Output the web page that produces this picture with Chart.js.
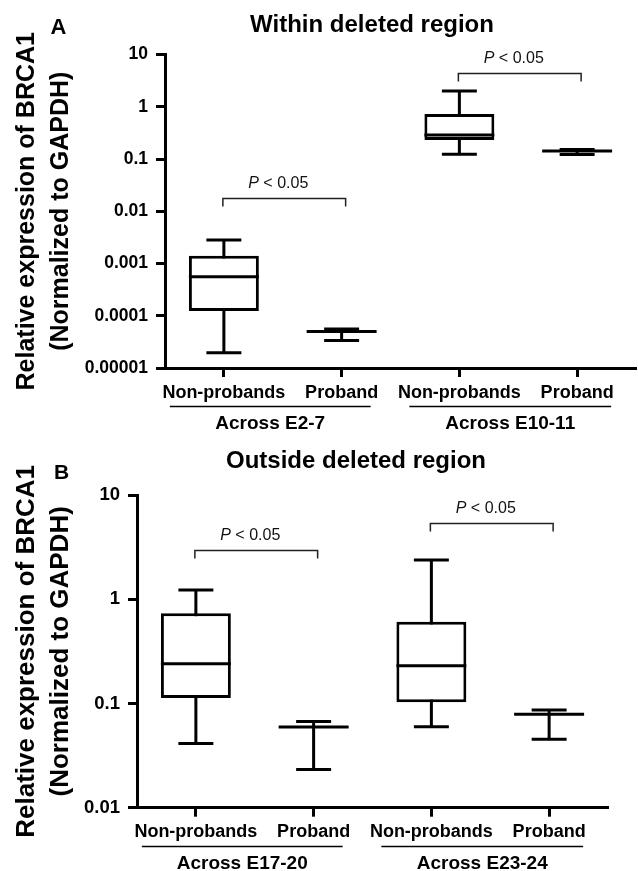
<!DOCTYPE html>
<html lang="en">
<head>
  <meta charset="UTF-8">
  <title>BRCA1 relative expression</title>
  <script src="https://cdn.jsdelivr.net/npm/chart.js"></script>
  <style>
    body { margin: 0; background: #fff; }
    canvas { display: block; }
  </style>
</head>
<body>
  <canvas id="chartA" width="638" height="436"></canvas>
  <canvas id="chartB" width="638" height="435"></canvas>

<script>
  // categories, shared by both panels
  const labels = ['Non-probands', 'Proband', 'Non-probands', 'Proband'];

  // panel A - within deleted region
  const groupsA = ['Across E2-7', 'Across E10-11'];
  const minA = [0.0000196, 0.0000336, 0.123, 0.122];
  const q1A  = [0.000123, 0.0000495, 0.231, 0.141];
  const medA = [0.000559, 0.0000500, 0.288, 0.142];
  const q3A  = [0.00141, 0.0000505, 0.726, 0.143];
  const maxA = [0.00282, 0.0000557, 2.0, 0.152];
  const ticksA = [0.00001, 0.0001, 0.001, 0.01, 0.1, 1, 10];
  const tickLabelsA = ['0.00001', '0.0001', '0.001', '0.01', '0.1', '1', '10'];
  const bracketsA = [0.0182, 4.48];

  // panel B - outside deleted region
  const groupsB = ['Across E17-20', 'Across E23-24'];
  const minB = [0.0414, 0.0233, 0.0598, 0.0453];
  const q1B  = [0.113, 0.0585, 0.1025, 0.078];
  const medB = [0.240, 0.0594, 0.230, 0.079];
  const q3B  = [0.732, 0.0600, 0.608, 0.080];
  const maxB = [1.225, 0.0670, 2.38, 0.0864];
  const ticksB = [0.01, 0.1, 1, 10];
  const tickLabelsB = ['0.01', '0.1', '1', '10'];
  const bracketsB = [2.97, 5.35];

  const yTitle = ['Relative expression of BRCA1', '(Normalized to GAPDH)'];
  const pItalic = 'P';
  const pRest = ' < 0.05';

  const FONT = "'Liberation Sans', Arial, sans-serif";
  // how far each group underline runs past the two category centres
  const underPad = [[54, 29], [50, 34]];

  function pValue(ctx, cx, baseline) {
    const it = 'italic 16px ' + FONT, rg = '16px ' + FONT;
    ctx.font = it;
    const wP = ctx.measureText(pItalic).width;
    ctx.font = rg;
    const wR = ctx.measureText(pRest).width;
    const x0 = cx - (wP + wR) / 2;
    ctx.textAlign = 'left';
    ctx.font = it;
    ctx.fillText(pItalic, x0, baseline);
    ctx.font = rg;
    ctx.fillText(pRest, x0 + wP, baseline);
  }

  function boxChart(id, p) {
    const boxPlot = {
      id: 'boxPlot',
      // whiskers and caps go under the boxes
      beforeDatasetsDraw(chart) {
        const ctx = chart.ctx, x = chart.scales.x, y = chart.scales.y;
        ctx.save();
        ctx.strokeStyle = '#000';
        ctx.lineWidth = 3;
        chart.getDatasetMeta(0).data.forEach((bar, i) => {
          const cx = x.getPixelForValue(i), half = bar.width / 4;
          const yMax = y.getPixelForValue(p.max[i]), yMin = y.getPixelForValue(p.min[i]);
          ctx.beginPath();
          ctx.moveTo(cx, yMax);
          ctx.lineTo(cx, yMin);
          ctx.moveTo(cx - half, yMax);
          ctx.lineTo(cx + half, yMax);
          ctx.moveTo(cx - half, yMin);
          ctx.lineTo(cx + half, yMin);
          ctx.stroke();
        });
        ctx.restore();
      },
      afterDatasetsDraw(chart) {
        const ctx = chart.ctx, y = chart.scales.y;
        ctx.save();
        ctx.strokeStyle = '#000';
        ctx.lineWidth = 3;
        chart.getDatasetMeta(0).data.forEach((bar, i) => {
          const ym = y.getPixelForValue(p.med[i]);
          ctx.beginPath();
          ctx.moveTo(bar.x - bar.width / 2, ym);
          ctx.lineTo(bar.x + bar.width / 2, ym);
          ctx.stroke();
        });
        ctx.restore();
      },
      afterDraw(chart) {
        const ctx = chart.ctx, x = chart.scales.x, y = chart.scales.y;
        const area = chart.chartArea;
        ctx.save();
        ctx.fillStyle = '#000';
        ctx.textBaseline = 'alphabetic';
        ctx.textAlign = 'center';
        ctx.font = 'bold 24px ' + FONT;
        ctx.fillText(p.title, p.titleX, p.titleY);
        ctx.font = 'bold ' + p.letterSize + 'px ' + FONT;
        ctx.fillText(p.letter, p.letterX, p.letterY);

        // significance brackets
        ctx.strokeStyle = '#222';
        ctx.lineWidth = 1.5;
        p.brackets.forEach((v, g) => {
          const x0 = x.getPixelForValue(2 * g) - 1;
          const x1 = x.getPixelForValue(2 * g + 1) + 4;
          const yb = Math.round(y.getPixelForValue(v)) + 0.5;
          ctx.beginPath();
          ctx.moveTo(x0, yb + 8);
          ctx.lineTo(x0, yb);
          ctx.lineTo(x1, yb);
          ctx.lineTo(x1, yb + 8);
          ctx.stroke();
          ctx.fillStyle = '#111';
          pValue(ctx, (x0 + x1) / 2 - 6, yb - 11);
        });

        // group underlines and names
        ctx.fillStyle = '#000';
        ctx.strokeStyle = '#000';
        p.groups.forEach((name, g) => {
          const x0 = x.getPixelForValue(2 * g) - underPad[g][0];
          const x1 = x.getPixelForValue(2 * g + 1) + underPad[g][1];
          const yu = Math.round(area.bottom + 38) + 0.5;
          ctx.beginPath();
          ctx.moveTo(x0, yu);
          ctx.lineTo(x1, yu);
          ctx.stroke();
          ctx.textAlign = 'center';
          ctx.font = 'bold 19px ' + FONT;
          ctx.fillText(name, (x0 + x1) / 2, yu + 22);
        });
        ctx.restore();
      }
    };

    return new Chart(document.getElementById(id), {
      type: 'bar',
      data: {
        labels: labels,
        datasets: [{
          data: p.q1.map((v, i) => [v, p.q3[i]]),
          backgroundColor: '#fff',
          borderColor: '#000',
          borderWidth: 3,
          borderSkipped: false,
          barPercentage: 0.594,
          categoryPercentage: 1
        }]
      },
      options: {
        responsive: false,
        animation: false,
        events: [],
        layout: { padding: { top: p.top, right: p.right, left: 0, bottom: 0 } },
        plugins: { legend: { display: false }, tooltip: { enabled: false } },
        scales: {
          x: {
            grid: { offset: false, drawOnChartArea: false, tickLength: 9, tickWidth: 3, tickColor: '#000' },
            border: { color: '#000', width: 3 },
            ticks: {
              color: '#000', autoSkip: false, maxRotation: 0, minRotation: 0, padding: 5,
              font: { family: FONT, size: 18, weight: 'bold' }
            },
            afterFit: s => { s.height = p.xHeight; }
          },
          y: {
            type: 'logarithmic',
            min: p.ticks[0],
            max: p.ticks[p.ticks.length - 1],
            afterBuildTicks: s => { s.ticks = p.ticks.map(v => ({ value: v })); },
            grid: { drawOnChartArea: false, tickLength: 9, tickWidth: 3, tickColor: '#000' },
            border: { color: '#000', width: 3 },
            ticks: {
              color: '#000', autoSkip: false, padding: 8,
              font: { family: FONT, size: p.tickSize, weight: 'bold' },
              callback: (v, i) => p.tickLabels[i]
            },
            title: {
              display: true,
              text: yTitle,
              color: '#000',
              padding: { top: 10, bottom: 0 },
              font: { family: FONT, size: p.yTitleSize, weight: 'bold', lineHeight: '34px' }
            },
            afterFit: s => { s.width = p.yWidth; }
          }
        }
      },
      plugins: [boxPlot]
    });
  }

  boxChart('chartA', {
    min: minA, q1: q1A, med: medA, q3: q3A, max: maxA,
    ticks: ticksA, tickLabels: tickLabelsA, brackets: bracketsA, groups: groupsA,
    title: 'Within deleted region', titleX: 372, titleY: 32,
    letter: 'A', letterX: 58.5, letterY: 33.5, letterSize: 22,
    top: 54.5, right: 2, yWidth: 165, xHeight: 68, tickSize: 17.5, yTitleSize: 25
  });

  boxChart('chartB', {
    min: minB, q1: q1B, med: medB, q3: q3B, max: maxB,
    ticks: ticksB, tickLabels: tickLabelsB, brackets: bracketsB, groups: groupsB,
    title: 'Outside deleted region', titleX: 356, titleY: 32,
    letter: 'B', letterX: 61.5, letterY: 42.5, letterSize: 21,
    top: 59, right: 30, yWidth: 137, xHeight: 63.3, tickSize: 18.5, yTitleSize: 26
  });
</script>
</body>
</html>
